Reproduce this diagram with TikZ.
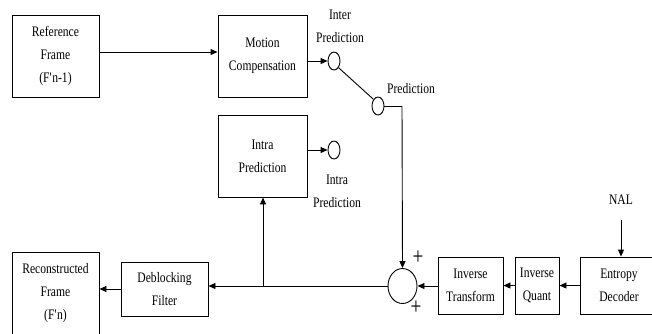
\documentclass[tikz,border=0pt]{standalone}
\usepackage{fontspec}
\setmainfont[FakeStretch=0.8]{Liberation Serif}
\usetikzlibrary{shapes.geometric,arrows.meta}
\begin{document}
\begin{tikzpicture}[x=1pt,y=-1pt,
 blk/.style={draw, line width=0.9pt, inner sep=0, align=center, font=\fontsize{14.5}{23}\selectfont},
 lbl/.style={inner sep=0, align=center, font=\fontsize{14.5}{23}\selectfont},
 sw/.style={draw, ellipse, line width=0.9pt, minimum width=12, minimum height=18, inner sep=0},
 arr/.style={line width=0.9pt, -{Triangle[length=7pt,width=6pt]}},
 ln/.style={line width=0.9pt},
 plus/.style={inner sep=0, font=\fontsize{24}{24}\selectfont}]
\useasboundingbox (0,0) rectangle (652,333);
\node[blk, minimum width=87, minimum height=82] (ref) at (55.5,56) {Reference\\Frame\\(F\textquotesingle n-1)};
\node[blk, minimum width=89, minimum height=82] (mc) at (262.5,56) {Motion\\Compensation};
\node[blk, minimum width=89, minimum height=82] (intra) at (262.5,156) {Intra\\Prediction};
\node[blk, minimum width=87, minimum height=82] (rec) at (55.5,293) {Reconstructed\\Frame\\(F\textquotesingle n)};
\node[blk, minimum width=87, minimum height=54] (deb) at (164.5,289) {Deblocking\\Filter};
\node[blk, minimum width=65, minimum height=57] (itr) at (470.5,285.5) {Inverse\\Transform};
\node[blk, minimum width=44, minimum height=57] (iq) at (537,285.5) {Inverse\\Quant};
\node[blk, minimum width=78, minimum height=57] (ent) at (619,285.5) {Entropy\\Decoder};
\node[draw, ellipse, line width=0.9pt, minimum width=29, minimum height=35, inner sep=0] (sum) at (402.5,286) {};
\node[sw] (c1) at (334,61) {};
\node[sw] (c2) at (378,106) {};
\node[sw] (c3) at (334,150) {};
\node[lbl] (l1) at (340,26) {Inter\\Prediction};
\node[lbl] (l2) at (411,89) {Prediction};
\node[lbl] (l3) at (337,191) {Intra\\Prediction};
\node[lbl] (nal) at (621,200) {NAL};
\node[plus] (p1) at (418,258) {+};
\node[plus] (p2) at (416,308) {+};
\coordinate (nalend) at (621,220);
\coordinate (corner) at (402,106);
\draw[arr] (ref.east |- 0,52) -- (mc.west |- 0,52);
\draw[arr] (mc.east |- c1.west) -- (c1.west);
\draw[arr] (intra.east |- c3.west) -- (c3.west);
\draw[ln] (c1.south east) -- (c2.north west);
\draw[ln] (c2.east) -- (corner);
\draw[arr] (corner) -- (sum.north);
\draw[arr] (nalend) -- (ent.north -| nalend);
\draw[arr] (ent.west) -- (iq.east);
\draw[arr] (iq.west) -- (itr.east);
\draw[arr] (itr.west |- sum.east) -- (sum.east);
\draw[arr] (sum.west) -- (sum.west -| deb.east);
\coordinate (tap) at (263,286);
\draw[arr] (tap) -- (intra.south -| tap);
\draw[arr] (deb.west) -- (deb.west -| rec.east);
\end{tikzpicture}
\end{document}
